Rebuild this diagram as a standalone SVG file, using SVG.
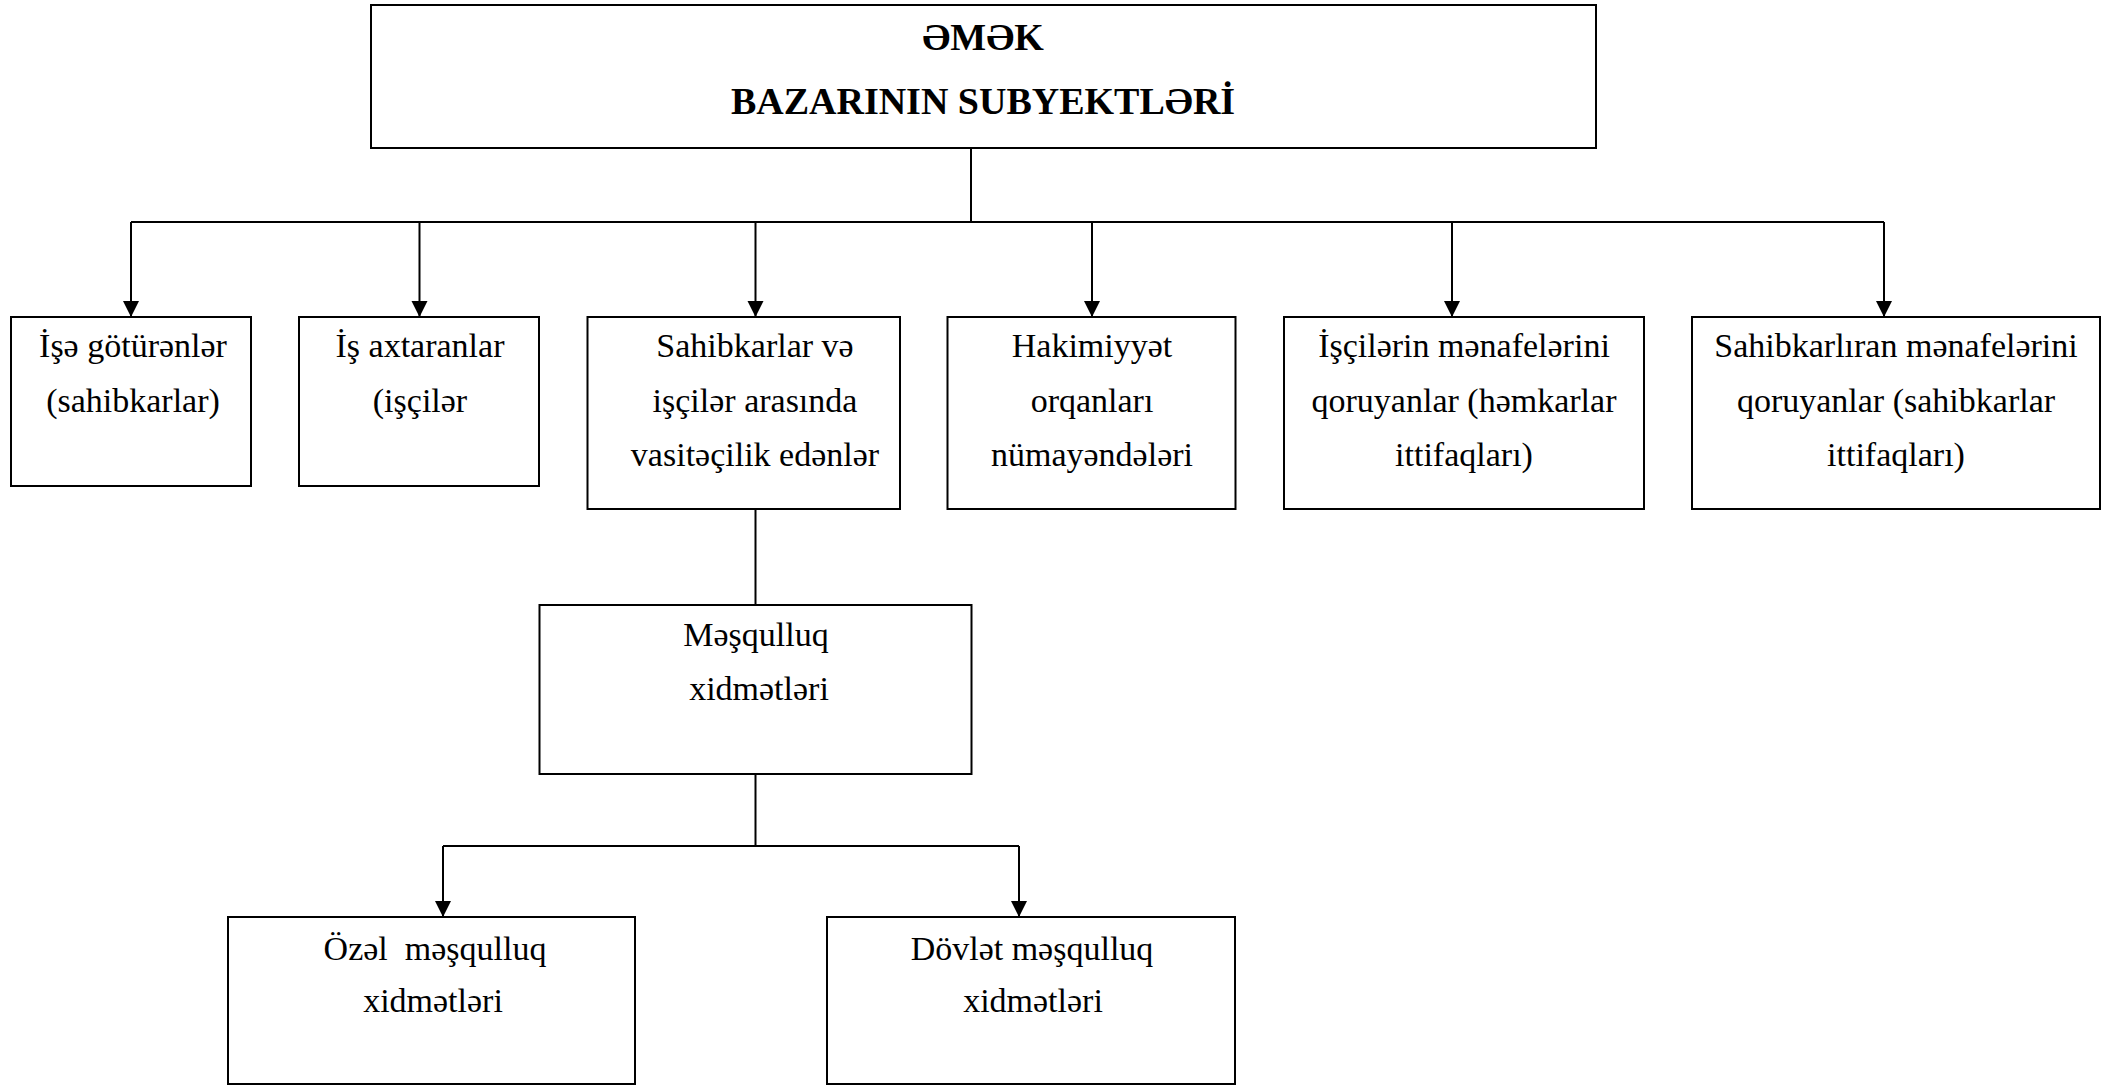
<svg xmlns="http://www.w3.org/2000/svg" width="2118" height="1086" viewBox="0 0 2118 1086">
<defs>
<marker id="ah" markerUnits="userSpaceOnUse" markerWidth="18" markerHeight="18" refX="16" refY="9" orient="auto" viewBox="0 0 18 18">
<path d="M0,1 L16,9 L0,17 Z" fill="#000"/>
</marker>
</defs>
<g id="connectors" fill="none" stroke="#000" stroke-width="2">
<path d="M971,148 V222"/>
<path d="M131,222 H1884"/>
<path d="M131,222 V317" marker-end="url(#ah)"/>
<path d="M419.5,222 V317" marker-end="url(#ah)"/>
<path d="M755.5,222 V317" marker-end="url(#ah)"/>
<path d="M1092,222 V317" marker-end="url(#ah)"/>
<path d="M1452,222 V317" marker-end="url(#ah)"/>
<path d="M1884,222 V317" marker-end="url(#ah)"/>
<path d="M755.5,509 V605"/>
<path d="M755.5,774 V846"/>
<path d="M443,846 H1019"/>
<path d="M443,846 V917" marker-end="url(#ah)"/>
<path d="M1019,846 V917" marker-end="url(#ah)"/>
</g>
<g id="title">
<rect x="371" y="5" width="1225" height="143" fill="#fff" stroke="#000" stroke-width="2"/>
<text x="983" y="50" font-family="Liberation Serif" font-size="38" font-weight="bold" text-anchor="middle">ƏMƏK</text>
<text x="983" y="114" font-family="Liberation Serif" font-size="38" font-weight="bold" text-anchor="middle">BAZARININ SUBYEKTLƏRİ</text>
</g>
<g id="n1">
<rect x="11" y="317" width="240" height="169" fill="#fff" stroke="#000" stroke-width="2"/>
<text x="133" y="357" font-family="Liberation Serif" font-size="34" text-anchor="middle">İşə götürənlər</text>
<text x="133" y="412" font-family="Liberation Serif" font-size="34" text-anchor="middle">(sahibkarlar)</text>
</g>
<g id="n2">
<rect x="299" y="317" width="240" height="169" fill="#fff" stroke="#000" stroke-width="2"/>
<text x="420" y="357" font-family="Liberation Serif" font-size="34" text-anchor="middle">İş axtaranlar</text>
<text x="420" y="412" font-family="Liberation Serif" font-size="34" text-anchor="middle">(işçilər</text>
</g>
<g id="n3">
<rect x="587.5" y="317" width="312.5" height="192" fill="#fff" stroke="#000" stroke-width="2"/>
<text x="755" y="357" font-family="Liberation Serif" font-size="34" text-anchor="middle">Sahibkarlar və</text>
<text x="755" y="412" font-family="Liberation Serif" font-size="34" text-anchor="middle">işçilər arasında</text>
<text x="755" y="466" font-family="Liberation Serif" font-size="34" text-anchor="middle">vasitəçilik edənlər</text>
</g>
<g id="n4">
<rect x="947.5" y="317" width="288" height="192" fill="#fff" stroke="#000" stroke-width="2"/>
<text x="1092" y="357" font-family="Liberation Serif" font-size="34" text-anchor="middle">Hakimiyyət</text>
<text x="1092" y="412" font-family="Liberation Serif" font-size="34" text-anchor="middle">orqanları</text>
<text x="1092" y="466" font-family="Liberation Serif" font-size="34" text-anchor="middle">nümayəndələri</text>
</g>
<g id="n5">
<rect x="1284" y="317" width="360" height="192" fill="#fff" stroke="#000" stroke-width="2"/>
<text x="1464" y="357" font-family="Liberation Serif" font-size="34" text-anchor="middle">İşçilərin mənafelərini</text>
<text x="1464" y="412" font-family="Liberation Serif" font-size="34" text-anchor="middle">qoruyanlar (həmkarlar</text>
<text x="1464" y="466" font-family="Liberation Serif" font-size="34" text-anchor="middle">ittifaqları)</text>
</g>
<g id="n6">
<rect x="1692" y="317" width="408" height="192" fill="#fff" stroke="#000" stroke-width="2"/>
<text x="1896" y="357" font-family="Liberation Serif" font-size="34" text-anchor="middle">Sahibkarlıran mənafelərini</text>
<text x="1896" y="412" font-family="Liberation Serif" font-size="34" text-anchor="middle">qoruyanlar (sahibkarlar</text>
<text x="1896" y="466" font-family="Liberation Serif" font-size="34" text-anchor="middle">ittifaqları)</text>
</g>
<g id="n7">
<rect x="539.5" y="605" width="432" height="169" fill="#fff" stroke="#000" stroke-width="2"/>
<text x="756" y="646" font-family="Liberation Serif" font-size="34" text-anchor="middle">Məşqulluq</text>
<text x="759" y="700" font-family="Liberation Serif" font-size="34" text-anchor="middle">xidmətləri</text>
</g>
<g id="n8">
<rect x="228" y="917" width="407" height="167" fill="#fff" stroke="#000" stroke-width="2"/>
<text x="435" y="960" font-family="Liberation Serif" font-size="34" text-anchor="middle" xml:space="preserve">Özəl  məşqulluq</text>
<text x="433" y="1012" font-family="Liberation Serif" font-size="34" text-anchor="middle">xidmətləri</text>
</g>
<g id="n9">
<rect x="827" y="917" width="408" height="167" fill="#fff" stroke="#000" stroke-width="2"/>
<text x="1032" y="960" font-family="Liberation Serif" font-size="34" text-anchor="middle">Dövlət məşqulluq</text>
<text x="1033" y="1012" font-family="Liberation Serif" font-size="34" text-anchor="middle">xidmətləri</text>
</g>
</svg>
